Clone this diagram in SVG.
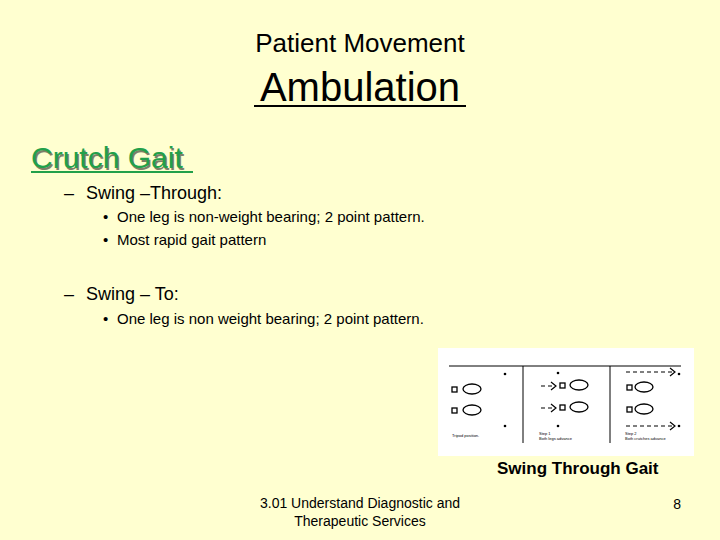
<svg xmlns="http://www.w3.org/2000/svg" width="720" height="540" viewBox="0 0 720 540">
<style>
text{font-family:"Liberation Sans",Arial,sans-serif;fill:#000}
.b{font-size:18px}.s{font-size:15px}
.ft{fill:none;stroke:#000;stroke-width:1.3}
.ar{fill:none;stroke:#000;stroke-width:1.2;stroke-dasharray:4,3}
.sm{font-size:4px}
</style>
<rect width="720" height="540" fill="#FFFFD0"/>
<g id="title">
<text x="360" y="52" text-anchor="middle" font-size="26">Patient Movement</text>
<text x="360" y="101" text-anchor="middle" font-size="40">Ambulation</text>
<line x1="254" y1="106" x2="466" y2="106" stroke="#000" stroke-width="2"/>
</g>
<g id="heading">
<text x="31" y="168" font-size="30" fill="#999" opacity="0.5" transform="translate(1.5,1.5)">Crutch Gait</text>
<text x="31" y="168" font-size="30" style="fill:#22a04a">Crutch Gait</text>
<line x1="31" y1="172" x2="193" y2="172" stroke="#22a04a" stroke-width="2"/>
</g>
<g id="body">
<text x="64" y="199" class="b">–</text><text x="86" y="199" class="b">Swing –Through:</text>
<text x="103" y="222" class="s">•</text><text x="117" y="222" class="s">One leg is non-weight bearing; 2 point pattern.</text>
<text x="103" y="245" class="s">•</text><text x="117" y="245" class="s">Most rapid gait pattern</text>
<text x="64" y="300" class="b">–</text><text x="86" y="300" class="b">Swing – To:</text>
<text x="103" y="324" class="s">•</text><text x="117" y="324" class="s">One leg is non weight bearing; 2 point pattern.</text>
</g>
<g id="figure">
<rect x="438" y="348" width="256" height="108" fill="#fff"/>
<g stroke="#000" stroke-width="1">
<line x1="449" y1="366" x2="681" y2="366"/>
<line x1="523" y1="366" x2="523" y2="443"/>
<line x1="610" y1="366" x2="610" y2="443"/>
</g>
<g fill="#000"><circle cx="505" cy="374" r="1.3"/><circle cx="505" cy="426" r="1.3"/><circle cx="558" cy="373" r="1.3"/><circle cx="558" cy="426" r="1.3"/><circle cx="679" cy="374" r="1.3"/><circle cx="679" cy="426" r="1.3"/></g>
<g class="ft">
<rect x="452" y="387" width="5" height="5"/><ellipse cx="472" cy="389" rx="9" ry="5"/>
<rect x="452" y="408" width="5" height="5"/><ellipse cx="472" cy="410" rx="9" ry="5"/>
<rect x="560" y="383" width="5" height="5"/><ellipse cx="579" cy="385" rx="9" ry="5"/>
<rect x="560" y="405" width="5" height="5"/><ellipse cx="579" cy="407" rx="9" ry="5"/>
<rect x="627" y="385" width="5" height="5"/><ellipse cx="644" cy="387" rx="9" ry="5"/>
<rect x="627" y="407" width="5" height="5"/><ellipse cx="644" cy="409" rx="9" ry="5"/>
</g>
<g class="ar">
<line x1="541" y1="386" x2="552" y2="386"/><line x1="541" y1="408" x2="552" y2="408"/>
<line x1="626" y1="372" x2="675" y2="372"/><line x1="626" y1="426" x2="675" y2="426"/>
</g>
<g fill="none" stroke="#000" stroke-width="1.2">
<polyline points="551,382 556,386 551,390"/><polyline points="551,404 556,408 551,412"/>
<polyline points="670,368 675,372 670,376"/><polyline points="670,422 675,426 670,430"/>
</g>
<text x="452" y="437" class="sm">Tripod position.</text>
<text x="539" y="435" class="sm">Step 1</text><text x="539" y="440" class="sm">Both legs advance</text>
<text x="625" y="435" class="sm">Step 2</text><text x="625" y="440" class="sm">Both crutches advance</text>
<text x="497" y="474" font-size="17" font-weight="bold" fill="#222">Swing Through Gait</text>
</g>
<g id="footer">
<text x="360" y="508" text-anchor="middle" font-size="14">3.01 Understand Diagnostic and</text>
<text x="360" y="526" text-anchor="middle" font-size="14">Therapeutic Services</text>
<text x="681" y="509" text-anchor="end" font-size="14">8</text>
</g>
</svg>
